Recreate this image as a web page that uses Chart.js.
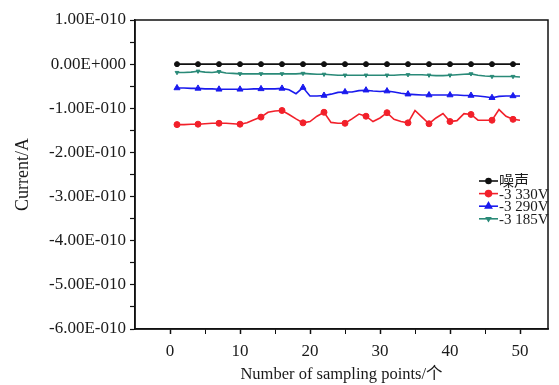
<!DOCTYPE html>
<html>
<head>
<meta charset="utf-8">
<script src="https://cdn.jsdelivr.net/npm/chart.js@4.4.1/dist/chart.umd.min.js"></script>
<style>
  html, body { margin: 0; padding: 0; background: #fff; }
  #wrap { width: 559px; height: 385px; position: relative; }
</style>
</head>
<body>
<div id="wrap"><canvas id="chart"></canvas></div>
<script>
// sampling point index 1..50
var samplePoints = [];
for (var i = 1; i <= 50; i++) samplePoints.push(i);

var seriesNames = ['噪声', '-3 330V', '-3 290V', '-3 185V'];

// current readings, A
var noise = [0, 0, 0, 0, 0, 0, 0, 0, 0, 0, 0, 0, 0, 0, 0, 0, 0, 0, 0, 0, 0, 0, 0, 0, 0,
             0, 0, 0, 0, 0, 0, 0, 0, 0, 0, 0, 0, 0, 0, 0, 0, 0, 0, 0, 0, 0, 0, 0, 0, 0];
var v3330 = [-1.37e-10, -1.37e-10, -1.36e-10, -1.36e-10, -1.35e-10, -1.34e-10, -1.34e-10, -1.34e-10, -1.35e-10, -1.36e-10,
             -1.33e-10, -1.26e-10, -1.20e-10, -1.09e-10, -1.06e-10, -1.05e-10, -1.14e-10, -1.24e-10, -1.33e-10, -1.30e-10,
             -1.18e-10, -1.09e-10, -1.32e-10, -1.34e-10, -1.34e-10, -1.24e-10, -1.13e-10, -1.18e-10, -1.30e-10, -1.22e-10,
             -1.10e-10, -1.25e-10, -1.30e-10, -1.33e-10, -1.05e-10, -1.20e-10, -1.35e-10, -1.22e-10, -1.12e-10, -1.30e-10,
             -1.28e-10, -1.12e-10, -1.14e-10, -1.27e-10, -1.27e-10, -1.27e-10, -1.03e-10, -1.18e-10, -1.25e-10, -1.27e-10];
var v3290 = [-0.54e-10, -0.54e-10, -0.55e-10, -0.55e-10, -0.56e-10, -0.56e-10, -0.57e-10, -0.57e-10, -0.57e-10, -0.57e-10,
             -0.57e-10, -0.56e-10, -0.56e-10, -0.56e-10, -0.56e-10, -0.55e-10, -0.58e-10, -0.67e-10, -0.53e-10, -0.72e-10,
             -0.72e-10, -0.71e-10, -0.68e-10, -0.64e-10, -0.63e-10, -0.63e-10, -0.60e-10, -0.59e-10, -0.61e-10, -0.62e-10,
             -0.61e-10, -0.63e-10, -0.66e-10, -0.68e-10, -0.69e-10, -0.70e-10, -0.70e-10, -0.70e-10, -0.70e-10, -0.70e-10,
             -0.70e-10, -0.71e-10, -0.71e-10, -0.72e-10, -0.74e-10, -0.76e-10, -0.73e-10, -0.72e-10, -0.72e-10, -0.72e-10];
var v3185 = [-0.19e-10, -0.19e-10, -0.18e-10, -0.16e-10, -0.18e-10, -0.19e-10, -0.17e-10, -0.20e-10, -0.21e-10, -0.22e-10,
             -0.22e-10, -0.22e-10, -0.22e-10, -0.22e-10, -0.22e-10, -0.22e-10, -0.22e-10, -0.22e-10, -0.21e-10, -0.22e-10,
             -0.23e-10, -0.23e-10, -0.24e-10, -0.25e-10, -0.25e-10, -0.25e-10, -0.25e-10, -0.25e-10, -0.25e-10, -0.25e-10,
             -0.25e-10, -0.25e-10, -0.24e-10, -0.24e-10, -0.24e-10, -0.24e-10, -0.25e-10, -0.26e-10, -0.26e-10, -0.25e-10,
             -0.24e-10, -0.23e-10, -0.22e-10, -0.25e-10, -0.27e-10, -0.28e-10, -0.28e-10, -0.28e-10, -0.28e-10, -0.29e-10];

var xTicks = [0, 5, 10, 15, 20, 25, 30, 35, 40, 45, 50];
var yTicks = [1e-10, 0.5e-10, 0, -0.5e-10, -1e-10, -1.5e-10, -2e-10, -2.5e-10, -3e-10, -3.5e-10,
              -4e-10, -4.5e-10, -5e-10, -5.5e-10, -6e-10];

var serif = "'Liberation Serif', 'Noto Sans CJK SC', serif";
var textColor = '#1a1a1a';

// 1.00E-010 style labels
function sciLabel(v) {
    var s = v.toExponential(2).split('e');
    var exp = parseInt(s[1], 10);
    var sign = exp < 0 ? '-' : '+';
    var digits = String(Math.abs(exp));
    while (digits.length < 3) digits = '0' + digits;
    return s[0] + 'E' + sign + digits;
}

function pts(values) {
    return samplePoints.map(function (x, i) { return { x: x, y: values[i] }; });
}

// markers on every third sample
function markEvery(r) {
    return function (ctx) { return ctx.dataIndex % 3 === 0 ? r : 0; };
}

var styles = [
    { color: '#111111', style: 'circle', r: 2.5, rot: 0 },
    { color: '#f2202a', style: 'circle', r: 3, rot: 0 },
    { color: '#1a1aee', style: 'triangle', r: 3.5, rot: 0 },
    { color: '#2a8a78', style: 'triangle', r: 2.2, rot: 180 }
];
var seriesValues = [noise, v3330, v3290, v3185];

var datasets = seriesValues.map(function (vals, k) {
    var st = styles[k];
    return {
        label: seriesNames[k],
        data: pts(vals),
        borderColor: st.color,
        backgroundColor: st.color,
        borderWidth: 1.6,
        pointStyle: st.style,
        pointRotation: st.rot,
        pointRadius: markEvery(st.r),
        pointBorderWidth: 1,
        tension: 0,
        fill: false
    };
});

// frame around plot + legend box inside it
var framePlugin = {
    id: 'frame',
    afterDraw: function (chart) {
        var c = chart.ctx, a = chart.chartArea;
        c.save();
        c.strokeStyle = '#111';
        c.lineWidth = 1.5;
        c.strokeRect(a.left, a.top, a.right - a.left, a.bottom - a.top);

        var x0 = 479, y0 = 181, rowH = 12.6;
        c.font = '15px ' + serif;
        c.textBaseline = 'middle';
        datasets.forEach(function (ds, k) {
            var st = styles[k], y = y0 + k * rowH;
            c.strokeStyle = st.color;
            c.fillStyle = st.color;
            c.lineWidth = 1.6;
            c.beginPath();
            c.moveTo(x0, y);
            c.lineTo(x0 + 19, y);
            c.stroke();
            Chart.helpers.drawPoint(c, { pointStyle: st.style, radius: st.r, rotation: st.rot, borderWidth: 1 }, x0 + 9.5, y);
            c.fillStyle = textColor;
            c.fillText(ds.label, x0 + 20, y + 1);
        });
        c.restore();
    }
};

new Chart(document.getElementById('chart'), {
    type: 'line',
    data: { datasets: datasets },
    plugins: [framePlugin],
    options: {
        responsive: true,
        maintainAspectRatio: false,
        animation: false,
        layout: { padding: { top: 20, right: 11, left: 0, bottom: 0 } },
        plugins: { legend: { display: false }, tooltip: { enabled: false } },
        scales: {
            x: {
                type: 'linear',
                min: -5,
                max: 54,
                afterBuildTicks: function (axis) {
                    axis.ticks = xTicks.map(function (v) { return { value: v }; });
                },
                afterFit: function (axis) { axis.height = 56; },
                grid: {
                    drawOnChartArea: false,
                    tickLength: 5,
                    tickColor: '#111',
                    tickWidth: function (ctx) { return ctx.tick && ctx.tick.value % 10 === 0 ? 1.5 : 1; }
                },
                border: { color: '#111', width: 1.5 },
                ticks: {
                    autoSkip: false,
                    maxRotation: 0,
                    padding: 7,
                    color: textColor,
                    font: { family: serif, size: 17 },
                    callback: function (v) { return v % 10 === 0 ? String(v) : ''; }
                },
                title: {
                    display: true,
                    text: 'Number of sampling points/个',
                    color: textColor,
                    font: { family: serif, size: 16.5 },
                    padding: { top: 0, bottom: 0 }
                }
            },
            y: {
                type: 'linear',
                min: -6e-10,
                max: 1e-10,
                afterBuildTicks: function (axis) {
                    axis.ticks = yTicks.map(function (v) { return { value: v }; });
                },
                afterFit: function (axis) { axis.width = 135; },
                grid: {
                    drawOnChartArea: false,
                    tickLength: 5,
                    tickColor: '#111',
                    tickWidth: 1.2
                },
                border: { color: '#111', width: 1.5 },
                ticks: {
                    autoSkip: false,
                    padding: 4,
                    color: textColor,
                    font: { family: serif, size: 17 },
                    callback: function (v) {
                        var whole = Math.round(v / 1e-10);
                        return Math.abs(v / 1e-10 - whole) < 1e-6 ? sciLabel(whole * 1e-10) : '';
                    }
                },
                title: {
                    display: true,
                    text: 'Current/A',
                    color: textColor,
                    font: { family: serif, size: 18 },
                    padding: { top: 12, bottom: 0 }
                }
            }
        }
    }
});
</script>
</body>
</html>
